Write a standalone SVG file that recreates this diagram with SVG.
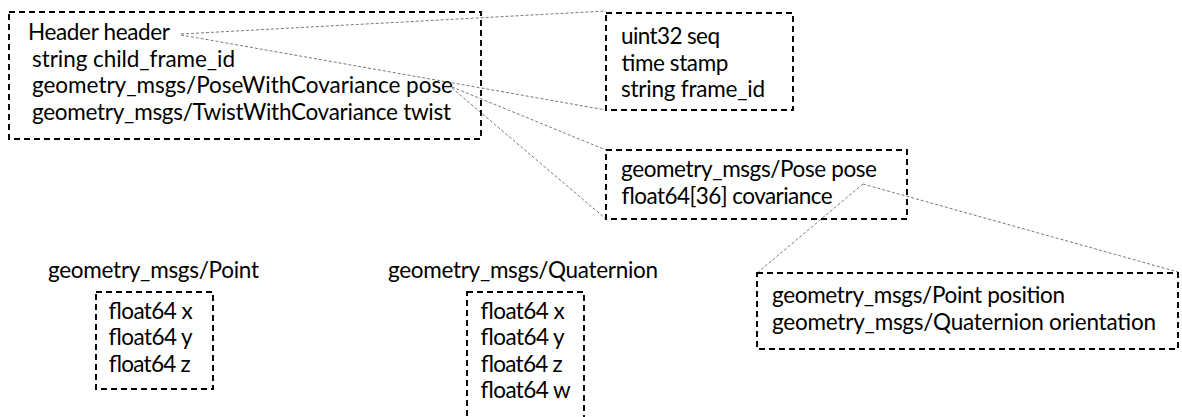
<svg xmlns="http://www.w3.org/2000/svg" width="1182" height="417" viewBox="0 0 1182 417">
  <style>
    .box { fill: none; stroke: #000; stroke-width: 1.9; stroke-dasharray: 6 4; }
    .link { fill: none; stroke: #7a7a7a; stroke-width: 1; stroke-dasharray: 3 2; }
    text { font-family: Lato, "Liberation Sans", sans-serif; font-size: 22.5px; fill: #000; }
  </style>
  <rect width="1182" height="417" fill="#fff"/>

  <!-- dotted leader lines between a field and its expansion -->
  <g id="connectors">
    <line class="link" x1="181" y1="34" x2="606" y2="11"/>
    <line class="link" x1="181" y1="35" x2="606" y2="110"/>
    <line class="link" x1="452" y1="87" x2="606" y2="150"/>
    <line class="link" x1="452" y1="88" x2="606" y2="219"/>
    <line class="link" x1="863" y1="184" x2="757" y2="273"/>
    <line class="link" x1="863" y1="184" x2="1178" y2="272"/>
  </g>

  <!-- nav_msgs/Odometry fields -->
  <g id="odometry">
    <rect class="box" x="9" y="12" width="472" height="127"/>
    <text x="28" y="40" textLength="142">Header header</text>
    <text x="32" y="66.5" textLength="203">string child_frame_id</text>
    <text x="32" y="93" textLength="421">geometry_msgs/PoseWithCovariance pose</text>
    <text x="32" y="119.5" textLength="419">geometry_msgs/TwistWithCovariance twist</text>
  </g>

  <!-- std_msgs/Header fields -->
  <g id="header">
    <rect class="box" x="606" y="13" width="187" height="97"/>
    <text x="621" y="44" textLength="99">uint32 seq</text>
    <text x="621" y="70.5" textLength="107">time stamp</text>
    <text x="621" y="97" textLength="144">string frame_id</text>
  </g>

  <!-- PoseWithCovariance fields -->
  <g id="pose-with-covariance">
    <rect class="box" x="606" y="150" width="301" height="69"/>
    <text x="621" y="177" textLength="256">geometry_msgs/Pose pose</text>
    <text x="621" y="203.5" textLength="211">float64[36] covariance</text>
  </g>

  <!-- Pose fields -->
  <g id="pose">
    <rect class="box" x="757" y="273" width="421" height="76"/>
    <text x="772" y="303" textLength="293">geometry_msgs/Point position</text>
    <text x="772" y="330" textLength="384">geometry_msgs/Quaternion orientation</text>
  </g>

  <!-- Point -->
  <g id="point">
    <text x="48" y="278" textLength="211">geometry_msgs/Point</text>
    <rect class="box" x="96" y="292" width="117" height="97"/>
    <text x="108" y="318.5" textLength="84">float64 x</text>
    <text x="108" y="345" textLength="84">float64 y</text>
    <text x="108" y="371.5" textLength="82">float64 z</text>
  </g>

  <!-- Quaternion -->
  <g id="quaternion">
    <text x="388" y="278" textLength="270">geometry_msgs/Quaternion</text>
    <rect class="box" x="467" y="292" width="117" height="130"/>
    <text x="480" y="318.5" textLength="84">float64 x</text>
    <text x="480" y="345" textLength="84">float64 y</text>
    <text x="480" y="371.5" textLength="82">float64 z</text>
    <text x="480" y="398" textLength="90">float64 w</text>
  </g>
</svg>
